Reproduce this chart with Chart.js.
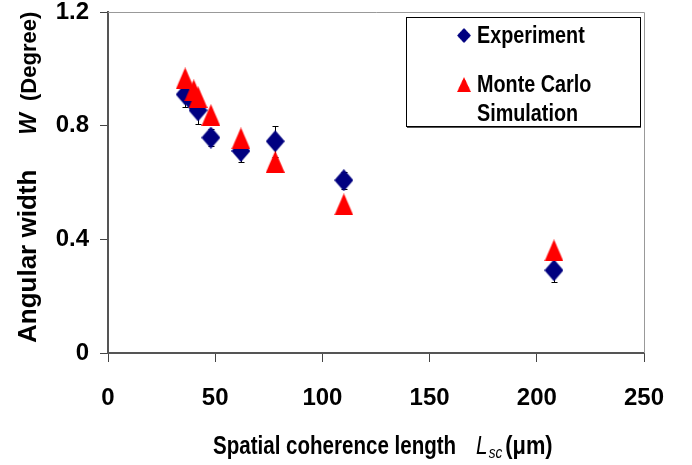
<!DOCTYPE html>
<html>
<head>
<meta charset="utf-8">
<script src="https://cdn.jsdelivr.net/npm/chart.js@4.4.1/dist/chart.umd.min.js"></script>
<style>
html, body { margin: 0; padding: 0; background: #fff; }
</style>
</head>
<body>
<canvas id="mycanvas" width="692" height="465"></canvas>
<script>
// spatial coherence length (um)
var lsc = [36, 40, 42, 48, 62, 78, 110, 208];
// angular width (degree)
var experiment = [0.91, 0.88, 0.854, 0.758, 0.711, 0.745, 0.608, 0.291];
var expError = [0.045, 0.03, 0.047, 0.03, 0.04, 0.055, 0.03, 0.041];
var simulation = [0.966, 0.924, 0.90, 0.837, 0.755, 0.673, 0.523, 0.361];
var xTicks = [0, 50, 100, 150, 200, 250];
var yTicks = [0, 0.4, 0.8, 1.2];

var FONT = "'Liberation Sans', Arial, sans-serif";

function makeMarker(shape, w, h, color) {
	var c = document.createElement('canvas');
	c.width = w; c.height = h;
	var g = c.getContext('2d');
	g.fillStyle = color;
	g.beginPath();
	if (shape === 'triangle') {
		g.moveTo(w / 2, 0); g.lineTo(w, h); g.lineTo(0, h);
	} else {
		g.moveTo(w / 2, 0); g.lineTo(w, h / 2); g.lineTo(w / 2, h); g.lineTo(0, h / 2);
	}
	g.closePath();
	g.fill();
	return c;
}

var diamond = makeMarker('diamond', 19, 22, '#000080');
var triangle = makeMarker('triangle', 19, 22, '#ff0000');

function pts(ys) {
	var out = [];
	for (var i in lsc) out.push({x: lsc[i], y: ys[i]});
	return out;
}

// draws a row of text pieces, each with its own font and horizontal squeeze
function drawRun(ctx, segs, x0, base) {
	var x = x0;
	ctx.textBaseline = 'alphabetic';
	ctx.textAlign = 'left';
	ctx.fillStyle = '#000';
	for (var i = 0; i < segs.length; i++) {
		var s = segs[i], sx = s.sx || 1;
		x += s.gap || 0;
		ctx.font = s.f;
		ctx.save();
		ctx.translate(x, base + (s.dy || 0));
		ctx.scale(sx, 1);
		ctx.fillText(s.t, 0, 0);
		ctx.restore();
		x += ctx.measureText(s.t).width * sx;
	}
}

// error bars, plot frame, custom legend and axis titles
var extras = {
	id: 'extras',
	beforeDatasetsDraw: function(chart) {
		var ctx = chart.ctx, xs = chart.scales.x, ys = chart.scales.y;
		ctx.save();
		ctx.strokeStyle = '#000';
		ctx.lineWidth = 1;
		for (var i in lsc) {
			var px = Math.round(xs.getPixelForValue(lsc[i])) + 0.5;
			var top = Math.round(ys.getPixelForValue(experiment[i] + expError[i])) + 0.5;
			var bot = Math.round(ys.getPixelForValue(experiment[i] - expError[i])) + 0.5;
			ctx.beginPath();
			ctx.moveTo(px, top); ctx.lineTo(px, bot);
			ctx.moveTo(px - 3, top); ctx.lineTo(px + 3, top);
			ctx.moveTo(px - 3, bot); ctx.lineTo(px + 3, bot);
			ctx.stroke();
		}
		ctx.restore();
	},
	afterDraw: function(chart) {
		var ctx = chart.ctx, a = chart.chartArea;
		ctx.save();
		// light frame on top and right
		ctx.strokeStyle = '#999';
		ctx.lineWidth = 1;
		ctx.beginPath();
		ctx.moveTo(a.left, a.top + 0.5); ctx.lineTo(a.right + 0.5, a.top + 0.5);
		ctx.lineTo(a.right + 0.5, a.bottom);
		ctx.stroke();

		// legend box
		var bx = 406, by = 17, bw = 234, bh = 109;
		ctx.fillStyle = '#fff';
		ctx.fillRect(bx, by, bw, bh);
		ctx.strokeStyle = '#000';
		ctx.strokeRect(bx + 0.5, by + 0.5, bw, bh);
		ctx.strokeStyle = '#555';
		ctx.beginPath();
		ctx.moveTo(bx + 1, by + bh + 1.5); ctx.lineTo(bx + bw + 1, by + bh + 1.5);
		ctx.stroke();
		ctx.drawImage(diamond, bx + 51, by + 11, 14, 15);
		ctx.drawImage(triangle, bx + 51, by + 60, 14, 15);
		var f = 'bold 23px ' + FONT;
		var lab = chart.data.datasets[1].label.split('\n');
		[[chart.data.datasets[0].label, 26], [lab[0], 75], [lab[1], 104]].forEach(function(l) {
			drawRun(ctx, [{t: l[0], f: f, sx: 0.86}], bx + 71, by + l[1]);
		});

		// x title
		drawRun(ctx, [
			{t: 'Spatial coherence length', f: 'bold 26px ' + FONT, sx: 0.79},
			{t: 'L', f: 'italic 26px ' + FONT, sx: 0.8, gap: 20},
			{t: 'sc', f: 'italic 17px ' + FONT, sx: 0.8, dy: 4, gap: 1},
			{t: '(\u03bcm)', f: 'bold 26px ' + FONT, sx: 0.84, gap: 3}
		], 213, 454);

		// y title
		ctx.translate(36, 343);
		ctx.rotate(-Math.PI / 2);
		drawRun(ctx, [
			{t: 'Angular width', f: 'bold 26px ' + FONT},
			{t: 'W', f: 'bold italic 23px ' + FONT, gap: 35},
			{t: '(Degree)', f: 'bold 22px ' + FONT, gap: 12}
		], 0, 0);
		ctx.restore();
	}
};

var chartdata = {
	datasets: [
		{
			label: 'Experiment',
			data: pts(experiment),
			pointStyle: diamond,
			backgroundColor: '#000080',
			borderColor: '#000080',
			showLine: false,
			order: 2
		},
		{
			label: 'Monte Carlo\nSimulation',
			data: pts(simulation),
			pointStyle: triangle,
			backgroundColor: '#ff0000',
			borderColor: '#ff0000',
			showLine: false,
			order: 1
		}
	]
};

var tickFont = {family: FONT, weight: 'bold', size: 24, lineHeight: 1};

var ctx = document.getElementById('mycanvas');
var scatter = new Chart(ctx, {
	type: 'scatter',
	data: chartdata,
	plugins: [extras],
	options: {
		responsive: false,
		animation: false,
		events: [],
		layout: {padding: {left: 0, right: 48, top: 12, bottom: 0}},
		plugins: {legend: {display: false}, tooltip: {enabled: false}},
		scales: {
			x: {
				type: 'linear',
				min: xTicks[0],
				max: xTicks[xTicks.length - 1],
				afterBuildTicks: function(s) { s.ticks = xTicks.map(function(v) { return {value: v}; }); },
				grid: {drawOnChartArea: false, color: '#444', tickLength: 9},
				border: {color: '#555', width: 2},
				ticks: {color: '#000', font: tickFont, padding: 24, maxRotation: 0},
				afterFit: function(s) { s.height = 112; s.paddingLeft = 0; s.paddingRight = 0; }
			},
			y: {
				min: yTicks[0],
				max: yTicks[yTicks.length - 1],
				afterBuildTicks: function(s) { s.ticks = yTicks.map(function(v) { return {value: v}; }); },
				grid: {drawOnChartArea: false, color: '#444', tickLength: 8},
				border: {color: '#555', width: 2},
				ticks: {color: '#000', font: tickFont, padding: 11},
				afterFit: function(s) { s.width = 108; s.paddingTop = 0; s.paddingBottom = 0; }
			}
		}
	}
});
</script>
</body>
</html>
